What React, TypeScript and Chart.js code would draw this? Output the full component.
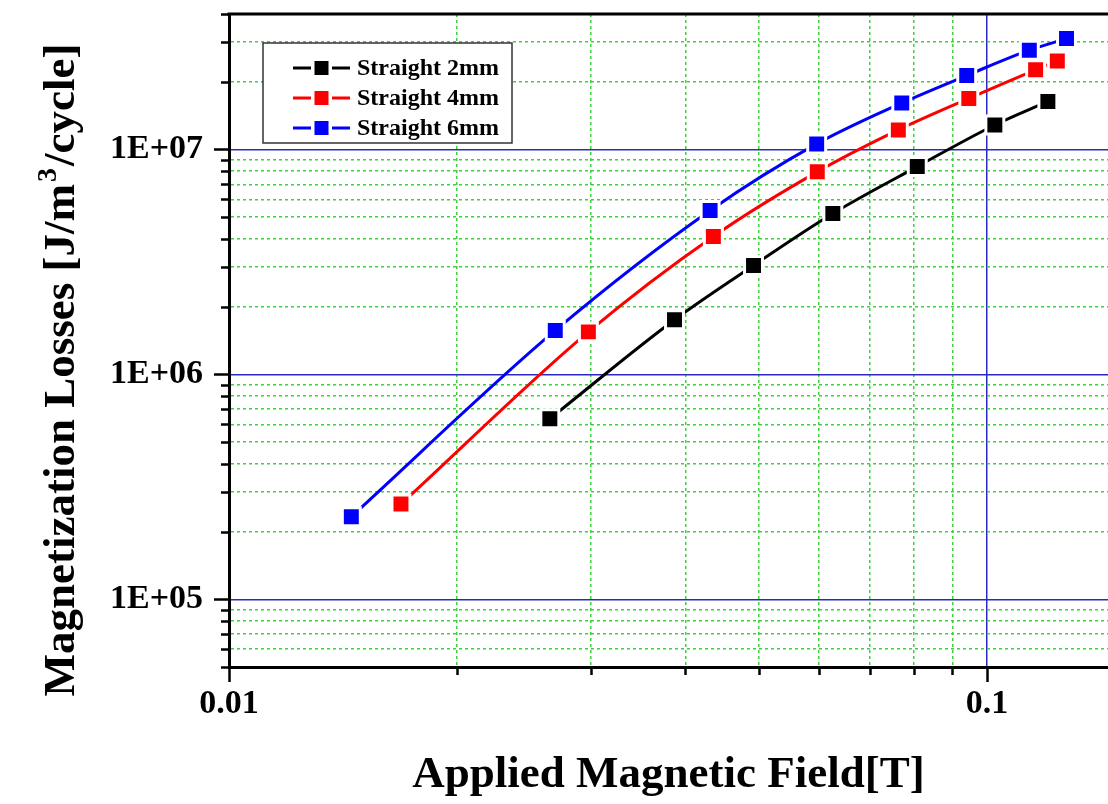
import { useEffect, useRef } from 'react';
import { Chart, registerables } from 'chart.js';

Chart.register(...registerables);

// ---- data ----
const seriesNames = ['Straight 2mm', 'Straight 4mm', 'Straight 6mm'];
const seriesColors = ['#000000', '#ff0000', '#0000ff'];

const field2mm = [0.0265, 0.0387, 0.0492, 0.0626, 0.0809, 0.1024, 0.1203];
const loss2mm = [6.35e5, 1.75e6, 3.05e6, 5.19e6, 8.39e6, 1.284e7, 1.634e7];

const field4mm = [0.01686, 0.02979, 0.04355, 0.05971, 0.07638, 0.09461, 0.1159, 0.1238];
const loss4mm = [2.65e5, 1.545e6, 4.105e6, 7.95e6, 1.221e7, 1.685e7, 2.259e7, 2.47e7];

const field6mm = [0.0145, 0.02694, 0.04312, 0.0596, 0.07718, 0.09401, 0.1137, 0.1273];
const loss6mm = [2.33e5, 1.567e6, 5.354e6, 1.058e7, 1.608e7, 2.131e7, 2.762e7, 3.11e7];

const xMin = 0.01;
const xMax = 0.1444;
const yMin = 5e4;
const yMax = 4e7;

const xTickValues = [0.01, 0.02, 0.03, 0.04, 0.05, 0.06, 0.07, 0.08, 0.09, 0.1];
const xTickLabels = ['0.01', '', '', '', '', '', '', '', '', '0.1'];

const yTickValues = [
  5e4, 6e4, 7e4, 8e4, 9e4,
  1e5, 2e5, 3e5, 4e5, 5e5, 6e5, 7e5, 8e5, 9e5,
  1e6, 2e6, 3e6, 4e6, 5e6, 6e6, 7e6, 8e6, 9e6,
  1e7, 2e7, 3e7, 4e7,
];
const yTickLabels = [
  '', '', '', '', '',
  '1E+05', '', '', '', '', '', '', '', '',
  '1E+06', '', '', '', '', '', '', '', '',
  '1E+07', '', '', '',
];

const xTitle = 'Applied Magnetic Field[T]';
const yTitleParts = ['Magnetization Losses [J/m', '3', '/cycle]'];

// ---- styles ----
const FONT = "'Liberation Serif', 'Times New Roman', serif";
const GREEN = '#3fcf3f';
const BLUE_GRID = '#2a2ac0';

const isMajor = (v: number) => {
  const l = Math.log10(v);
  return Math.abs(l - Math.round(l)) < 1e-6;
};

const zeroPad = (s: any) => {
  s.paddingTop = 0;
  s.paddingBottom = 0;
  s.paddingLeft = 0;
  s.paddingRight = 0;
};

const decorPlugin = {
  id: 'decor',
  afterDraw(chart: any) {
    const { ctx, chartArea } = chart;
    const xs = chart.scales.x;
    const ys = chart.scales.y;
    ctx.save();
    // tick marks
    ctx.strokeStyle = '#000';
    ctx.lineWidth = 2.5;
    ctx.lineCap = 'butt';
    ys.ticks.forEach((t: any) => {
      const py = Math.round(ys.getPixelForValue(t.value)) + 0.5;
      const len = isMajor(t.value) ? 15 : 8;
      ctx.beginPath();
      ctx.moveTo(chartArea.left - len, py);
      ctx.lineTo(chartArea.left, py);
      ctx.stroke();
    });
    xs.ticks.forEach((t: any) => {
      const px = Math.round(xs.getPixelForValue(t.value)) + 0.5;
      const len = isMajor(t.value) ? 15 : 8;
      ctx.beginPath();
      ctx.moveTo(px, chartArea.bottom);
      ctx.lineTo(px, chartArea.bottom + len);
      ctx.stroke();
    });
    // top border
    ctx.lineWidth = 3;
    ctx.beginPath();
    ctx.moveTo(chartArea.left - 1.5, chartArea.top);
    ctx.lineTo(chartArea.right, chartArea.top);
    ctx.stroke();

    // legend
    const bx = 263, by = 43, bw = 249, bh = 100;
    ctx.fillStyle = '#fff';
    ctx.fillRect(bx, by, bw, bh);
    ctx.strokeStyle = '#333';
    ctx.lineWidth = 1.5;
    ctx.strokeRect(bx, by, bw, bh);
    ctx.font = `bold 24px ${FONT}`;
    ctx.textBaseline = 'middle';
    ctx.textAlign = 'left';
    seriesNames.forEach((name, i) => {
      const cy = 68 + i * 30;
      const c = seriesColors[i];
      ctx.strokeStyle = c;
      ctx.lineWidth = 3;
      ctx.beginPath();
      ctx.moveTo(293, cy);
      ctx.lineTo(311, cy);
      ctx.moveTo(332, cy);
      ctx.lineTo(350, cy);
      ctx.stroke();
      ctx.fillStyle = c;
      ctx.fillRect(314.5, cy - 7, 14, 14);
      ctx.fillStyle = '#000';
      ctx.fillText(name, 357, cy + 1);
    });

    // y title (rotated, with superscript)
    ctx.save();
    ctx.translate(62, 370);
    ctx.rotate(-Math.PI / 2);
    ctx.fillStyle = '#000';
    ctx.textBaseline = 'middle';
    ctx.textAlign = 'left';
    const bigFont = `bold 45px ${FONT}`;
    const supFont = `bold 28px ${FONT}`;
    ctx.font = bigFont;
    const w1 = ctx.measureText(yTitleParts[0]).width;
    const w3 = ctx.measureText(yTitleParts[2]).width;
    ctx.font = supFont;
    const w2 = ctx.measureText(yTitleParts[1]).width + 4;
    const start = -(w1 + w2 + w3) / 2;
    ctx.font = bigFont;
    ctx.fillText(yTitleParts[0], start, 0);
    ctx.font = supFont;
    ctx.fillText(yTitleParts[1], start + w1 + 2, -13);
    ctx.font = bigFont;
    ctx.fillText(yTitleParts[2], start + w1 + w2, 0);
    ctx.restore();

    ctx.restore();
  },
};

export default function App() {
  const ref = useRef<HTMLCanvasElement | null>(null);

  useEffect(() => {
    if (!ref.current) return;
    const fields = [field2mm, field4mm, field6mm];
    const losses = [loss2mm, loss4mm, loss6mm];
    const datasets = seriesNames.map((name, i) => ({
      label: name,
      data: fields[i].map((x, j) => ({ x, y: losses[i][j] })),
      showLine: true,
      borderColor: seriesColors[i],
      backgroundColor: seriesColors[i],
      borderWidth: 3,
      cubicInterpolationMode: 'monotone' as const,
      pointStyle: 'rect' as const,
      pointRadius: 12.7,
      pointBorderWidth: 3,
      pointBorderColor: '#ffffff',
      pointBackgroundColor: seriesColors[i],
    }));

    const tickFont = { family: FONT, size: 34, weight: 'bold' as const };

    const chart = new Chart(ref.current, {
      type: 'scatter',
      data: { datasets },
      plugins: [decorPlugin],
      options: {
        animation: false,
        responsive: false,
        maintainAspectRatio: false,
        layout: { autoPadding: false, padding: { top: 14, right: 0, bottom: 0, left: 0 } },
        plugins: {
          legend: { display: false },
          tooltip: { enabled: false },
        },
        scales: {
          x: {
            type: 'logarithmic',
            min: xMin,
            max: xMax,
            afterBuildTicks: (s: any) => {
              s.ticks = xTickValues.map((v) => ({ value: v, major: isMajor(v) }));
            },
            afterFit: (s: any) => {
              s.height = 137;
              zeroPad(s);
            },
            ticks: {
              autoSkip: false,
              maxRotation: 0,
              minRotation: 0,
              padding: 17,
              color: '#000',
              font: tickFont,
              callback: (_v: any, i: number) => xTickLabels[i] ?? '',
            },
            grid: {
              drawTicks: false,
              lineWidth: 1.5,
              color: (c: any) => (c.tick && isMajor(c.tick.value) ? BLUE_GRID : GREEN),
            },
            border: {
              display: true,
              color: '#000',
              width: 3,
              dash: (c: any) => (c.tick && isMajor(c.tick.value) ? [] : [3, 3]),
            },
            title: {
              display: true,
              text: xTitle,
              color: '#000',
              font: { family: FONT, size: 45, weight: 'bold' },
              padding: { top: 0, bottom: 2 },
            },
          },
          y: {
            type: 'logarithmic',
            min: yMin,
            max: yMax,
            afterBuildTicks: (s: any) => {
              s.ticks = yTickValues.map((v) => ({ value: v, major: isMajor(v) }));
            },
            afterFit: (s: any) => {
              s.width = 229;
              zeroPad(s);
            },
            ticks: {
              autoSkip: false,
              padding: 26,
              color: '#000',
              font: tickFont,
              callback: (_v: any, i: number) => yTickLabels[i] ?? '',
            },
            grid: {
              drawTicks: false,
              lineWidth: 1.5,
              color: (c: any) => (c.tick && isMajor(c.tick.value) ? BLUE_GRID : GREEN),
            },
            border: {
              display: true,
              color: '#000',
              width: 3,
              dash: (c: any) => (c.tick && isMajor(c.tick.value) ? [] : [3, 3]),
            },
          },
        },
      } as any,
    });
    return () => chart.destroy();
  }, []);

  return (
    <div style={{ position: 'absolute', left: 0, top: 0, width: 1108, height: 804, background: '#fff' }}>
      <canvas ref={ref} width={1108} height={804} style={{ display: 'block' }} />
    </div>
  );
}
